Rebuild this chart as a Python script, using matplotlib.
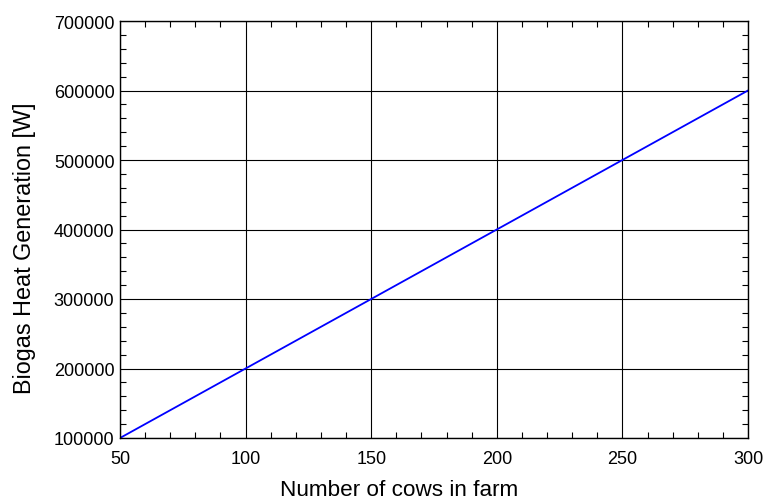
import matplotlib.pyplot as plt
from matplotlib.ticker import MultipleLocator, AutoMinorLocator

plt.rcParams["font.family"] = ["Liberation Sans", "DejaVu Sans"]

cows = [50, 100, 150, 200, 250, 300]
heat = [100000, 200000, 300000, 400000, 500000, 600000]

fig = plt.figure(figsize=(7.64, 5.02), dpi=100)
ax = fig.add_axes([120 / 764, 1 - 439 / 502, 628 / 764, 417 / 502])

ax.plot(cows, heat, color="#0000ff", linewidth=1.3)

ax.set_xlim(50, 300)
ax.set_ylim(100000, 700000)
ax.xaxis.set_major_locator(MultipleLocator(50))
ax.yaxis.set_major_locator(MultipleLocator(100000))
ax.xaxis.set_minor_locator(AutoMinorLocator(5))
ax.yaxis.set_minor_locator(AutoMinorLocator(5))
ax.grid(True, which="major", color="black", linewidth=0.8)

ax.tick_params(which="both", direction="in", top=True, right=True, labelsize=13, pad=4)
ax.tick_params(axis="x", which="major", pad=9)
ax.tick_params(which="major", length=0)
ax.tick_params(which="minor", length=4, width=0.8)
for s in ax.spines.values():
    s.set_linewidth(1.0)

ax.set_xlabel("Number of cows in farm", fontsize=16.2, labelpad=8.5)
ax.set_ylabel("Biogas Heat Generation [W]", fontsize=16.8, labelpad=12.5)
# the labels sit a bit off the axis centre in the reference
ax.xaxis.label.set_x(0.444)
ax.yaxis.label.set_y(0.458)

fig.savefig("out.png", dpi=100)
